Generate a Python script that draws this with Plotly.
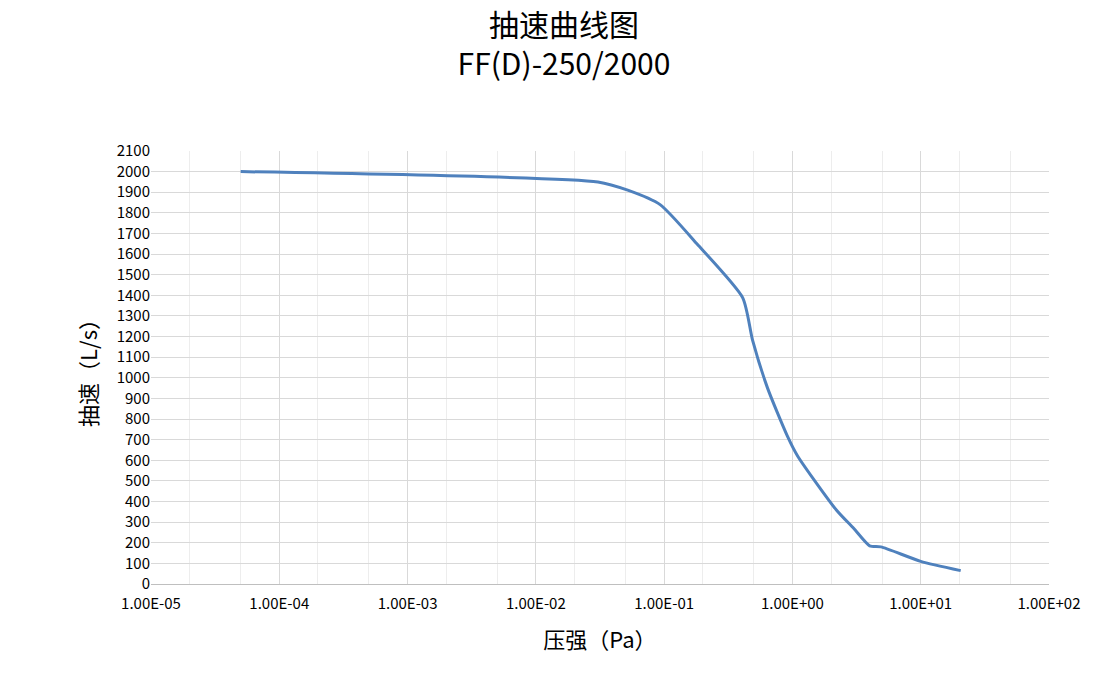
import plotly.graph_objects as go

pressure = [5e-5, 0.0305, 0.052, 0.093, 0.18, 0.41, 0.49, 0.64, 0.91, 1.1, 2.2, 3.0, 4.0, 4.9, 10, 20.5]
speed = [2000, 1950, 1910, 1840, 1650, 1388, 1180, 950, 720, 620, 359, 270, 185, 180, 110, 65]
tick_vals = [1e-5, 1e-4, 1e-3, 1e-2, 1e-1, 1e0, 1e1, 1e2]
tick_text = ["1.00E-05", "1.00E-04", "1.00E-03", "1.00E-02", "1.00E-01", "1.00E+00", "1.00E+01", "1.00E+02"]

fig = go.Figure(go.Scatter(x=pressure, y=speed, mode="lines", line=dict(color="#4F81BD", width=3, shape="spline", smoothing=0.6)))
fig.update_layout(
    width=1112, height=692, plot_bgcolor="white", paper_bgcolor="white",
    font=dict(family="Noto Sans CJK SC", size=15, color="black"),
    title=dict(text="抽速曲线图<br>FF(D)-250/2000", x=0.5, y=0.96, font=dict(size=30)),
    margin=dict(l=143, r=71, t=143, b=116),
    showlegend=False,
)
fig.update_xaxes(type="log", range=[-5, 2], tickvals=tick_vals, ticktext=tick_text, automargin=False,
                 showgrid=True, gridcolor="#D9D9D9", linecolor="#BFBFBF", showline=True, ticklen=6, ticks="outside", tickcolor="white",
                 minor=dict(showgrid=True, gridcolor="#EDEDED"),
                 title=dict(text="压强（Pa）", font=dict(size=22), standoff=20))
fig.update_yaxes(range=[0, 2100], dtick=100, showgrid=True, gridcolor="#D9D9D9", automargin=False,
                 tickfont=dict(size=15), title=dict(text="抽速（L/s）", font=dict(size=22), standoff=12), zeroline=False)
fig.write_html("out.html")
